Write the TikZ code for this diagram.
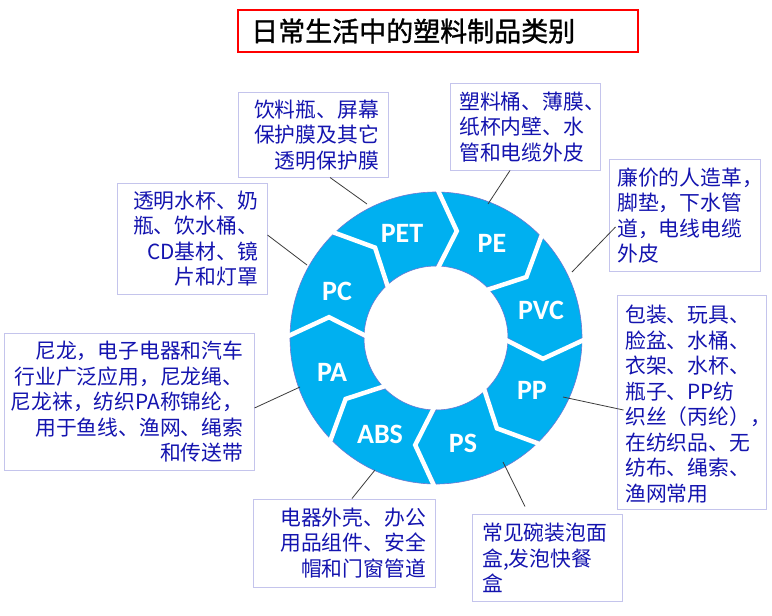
\documentclass[tikz,border=0pt]{standalone}
\usepackage{fontspec}
\newfontfamily\cjk{Noto Sans CJK SC}
\newfontfamily\cjktitle[FakeBold=1.2]{Noto Sans CJK SC}
\newfontfamily\lblfont{Carlito}
\definecolor{ringblue}{RGB}{0,176,240}
\definecolor{ringedge}{RGB}{110,120,210}
\definecolor{boxedge}{RGB}{196,196,236}
\definecolor{txtblue}{RGB}{20,20,175}
\definecolor{connc}{RGB}{60,60,60}
\begin{document}
\begin{tikzpicture}[x=1pt,y=-1pt,
  seg/.style={fill=ringblue, draw=ringedge, line width=0.6pt},
  gap/.style={draw=white, line width=4.5pt, line join=miter},
  lbl/.style={font=\lblfont\bfseries\fontsize{28}{28}\selectfont, text=white, inner sep=0pt},
  box/.style={draw=boxedge, line width=1pt, inner sep=0pt},
  txt/.style={font=\cjk\fontsize{20.8}{25.5}\selectfont, text=txtblue, inner sep=0pt},
  conn/.style={draw=connc, line width=0.8pt}]
\useasboundingbox (0,0) rectangle (772,616);
\fill[white] (0,0) rectangle (772,616);

% title
\node[draw=red, line width=2pt, minimum width=400pt, minimum height=42pt, inner sep=0pt] (titlebox) at (438,31) {};
\node[font=\cjktitle\fontsize{27}{27}\selectfont, anchor=west, inner sep=0pt] (title) at (251,31) {日常生活中的塑料制品类别};

% ring
\begin{scope}[shift={(436,338)}, yscale=-1]
  \foreach \a in {0,45,...,315} {
    \path[seg] ({\a}:146) arc[start angle=\a, end angle=\a-45, radius=146]
      -- ({\a-56}:109) -- ({\a-45}:72)
      arc[start angle=\a-45, end angle=\a, radius=72]
      -- ({\a-11}:109) -- cycle;
  }
  \foreach \a in {0,45,...,315} {
    \draw[gap] ({\a}:152) -- ({\a-11}:109) -- ({\a}:66);
  }
\end{scope}

% ring labels
\node[lbl] (lPET) at (402,233) {PET};
\node[lbl] (lPE)  at (492,243) {PE};
\node[lbl] (lPVC) at (541,310) {PVC};
\node[lbl] (lPP)  at (532,390) {PP};
\node[lbl] (lPS)  at (463,443) {PS};
\node[lbl] (lABS) at (380,434) {ABS};
\node[lbl] (lPA)  at (332,372) {PA};
\node[lbl] (lPC)  at (337,291) {PC};

% ring attachment points
\coordinate (cPET) at (367,204);
\coordinate (cPE)  at (488,204);
\coordinate (cPC)  at (307,265);
\coordinate (cPVC) at (572,272);
\coordinate (cPA)  at (300,387);
\coordinate (cPP)  at (563,397);
\coordinate (cABS) at (375,470);
\coordinate (cPS)  at (503,462);

% boxes
\node[box, minimum width=150pt, minimum height=85pt]  (b1) at (313,134.5) {};
\node[box, minimum width=150pt, minimum height=87pt]  (b2) at (525,126.5) {};
\node[box, minimum width=150pt, minimum height=111pt] (b3) at (192,238.5) {};
\node[box, minimum width=250pt, minimum height=137pt] (b4) at (129,401.5) {};
\node[box, minimum width=151pt, minimum height=112pt] (b5) at (684.5,215) {};
\node[box, minimum width=149pt, minimum height=214pt] (b6) at (691.5,402) {};
\node[box, minimum width=182pt, minimum height=88pt]  (b7) at (344,543) {};
\node[box, minimum width=150pt, minimum height=87pt]  (b8) at (547,557.5) {};

% texts
\node[txt, anchor=east, align=right] (t1) at (379,135) {饮料瓶、屏幕\\保护膜及其它\\透明保护膜};
\node[txt, anchor=west, align=left]  (t2) at (459,127) {塑料桶、薄膜、\\纸杯内壁、水\\管和电缆外皮};
\node[txt, anchor=east, align=right] (t3) at (258,238.5) {透明水杯、奶\\瓶、饮水桶、\\CD基材、镜\\片和灯罩};
\node[txt, anchor=east, align=right] (t4) at (243.5,402) {尼龙，电子电器和汽车\\行业广泛应用，尼龙绳、\\尼龙袜，纺织PA称锦纶，\\用于鱼线、渔网、绳索\\和传送带};
\node[txt, anchor=west, align=left]  (t5) at (617,215.5) {廉价的人造革，\\脚垫，下水管\\道，电线电缆\\外皮};
\node[txt, anchor=west, align=left]  (t6) at (625,404) {包装、玩具、\\脸盆、水桶、\\衣架、水杯、\\瓶子、PP纺\\织丝（丙纶），\\在纺织品、无\\纺布、绳索、\\渔网常用};
\node[txt, anchor=east, align=right] (t7) at (426,543) {电器外壳、办公\\用品组件、安全\\帽和门窗管道};
\node[txt, anchor=west, align=left]  (t8) at (482,558) {常见碗装泡面\\盒,发泡快餐\\盒};

% connectors
\draw[conn] ([xshift=17pt]b1.south) -- (cPET);
\draw[conn] ([xshift=-15pt]b2.south) -- (cPE);
\draw[conn] ([yshift=3.5pt]b3.east) -- (cPC);
\draw[conn] ([xshift=7pt,yshift=-12pt]b5.west) -- (cPVC);
\draw[conn] ([yshift=-6.5pt]b4.east) -- (cPA);
\draw[conn] ([xshift=7pt,yshift=-8pt]b6.west) -- (cPP);
\draw[conn] ([xshift=8pt]b7.north) -- (cABS);
\draw[conn] ([xshift=-22pt,yshift=7pt]b8.north) -- (cPS);
\end{tikzpicture}
\end{document}
